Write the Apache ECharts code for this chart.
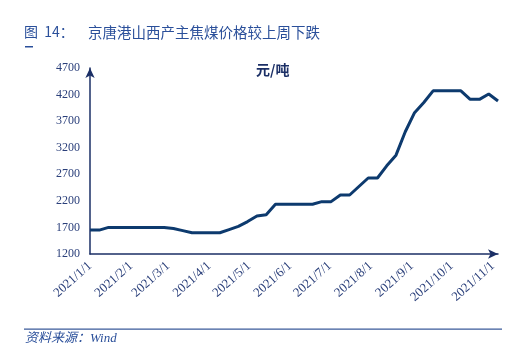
<!DOCTYPE html>
<html><head><meta charset="utf-8">
<script src="https://cdn.jsdelivr.net/npm/echarts@6/dist/echarts.min.js"></script>
<style>html,body{margin:0;padding:0;background:#fff}#c{width:522px;height:360px}</style>
</head><body><div id="c"></div>
<script>
const dates = ['2021-01-01','2021-01-08','2021-01-15','2021-01-22','2021-01-29','2021-02-05','2021-02-12','2021-02-19','2021-02-26','2021-03-05','2021-03-12','2021-03-19','2021-03-26','2021-04-02','2021-04-09','2021-04-16','2021-04-23','2021-04-30','2021-05-07','2021-05-14','2021-05-21','2021-05-28','2021-06-04','2021-06-11','2021-06-18','2021-06-25','2021-07-02','2021-07-09','2021-07-16','2021-07-23','2021-07-30','2021-08-06','2021-08-13','2021-08-20','2021-08-27','2021-09-03','2021-09-10','2021-09-17','2021-09-24','2021-10-01','2021-10-08','2021-10-15','2021-10-22','2021-10-29','2021-11-05'];
const prices = [1650,1650,1700,1700,1700,1700,1700,1700,1700,1680,1640,1600,1600,1600,1600,1660,1720,1810,1915,1940,2135,2135,2135,2135,2135,2185,2185,2310,2310,2470,2630,2630,2860,3060,3500,3860,4050,4270,4270,4270,4270,4110,4110,4210,4080];
const yTicks = [1200,1700,2200,2700,3200,3700,4200,4700];
const titleFig = '图  14：';
const titleText = '京唐港山西产主焦煤价格较上周下跌';
const unitText = '元/吨';
const sourceText = '资料来源：Wind';

const chart = echarts.init(document.getElementById('c'));
const axisColor = '#1b2f66';
const txtColor = '#2a3f7a';
chart.setOption({
  animation:false,
  grid:{left:90,right:24,top:68,bottom:106},
  graphic:[
    {type:'text',left:24,top:25,style:{text:titleFig,font:'14px "Noto Sans CJK SC"',fill:'#2a4f9a'}},
    {type:'text',left:88,top:25,style:{text:titleText,font:'14.5px "Noto Sans CJK SC"',fill:'#2a4f9a'}},
    {type:'rect',shape:{x:25,y:46,width:8,height:1.5},style:{fill:'#2a4f9a'}},
    {type:'text',left:256,top:63,style:{text:unitText,font:'bold 14px "Noto Sans CJK SC"',fill:'#1b2f66'}},
    {type:'rect',shape:{x:24,y:328.5,width:478,height:1.2},style:{fill:'#3a5a9a'}},
    {type:'text',left:25,top:332,style:{text:sourceText,font:'italic 13px "Liberation Serif","Noto Sans CJK SC"',fill:'#2a4f9a'}}
  ],
  xAxis:{type:'time',min:'2021-01-01',max:'2021-11-05',
    splitLine:{show:false},
    axisLine:{lineStyle:{color:axisColor,width:1.5},symbol:['none','arrow'],symbolSize:[7,10]},
    axisTick:{show:false},
    axisLabel:{rotate:42,color:txtColor,fontFamily:'Liberation Serif',fontSize:13,margin:10,showMaxLabel:false,
      formatter:function(v){const d=new Date(v);return d.getFullYear()+'/'+(d.getMonth()+1)+'/'+d.getDate();}}
  },
  yAxis:{type:'value',min:yTicks[0],max:yTicks[yTicks.length-1],interval:500,
    splitLine:{show:false},
    axisLine:{show:true,lineStyle:{color:axisColor,width:1.5},symbol:['none','arrow'],symbolSize:[7,10]},
    axisTick:{show:false},
    axisLabel:{color:txtColor,fontFamily:'Liberation Serif',fontSize:12,margin:10,formatter:function(v){return String(v);}}
  },
  series:[{type:'line',data:dates.map((d,i)=>[d,prices[i]]),showSymbol:false,
    lineStyle:{color:'#0d3a6e',width:3}}]
});
</script></body></html>
